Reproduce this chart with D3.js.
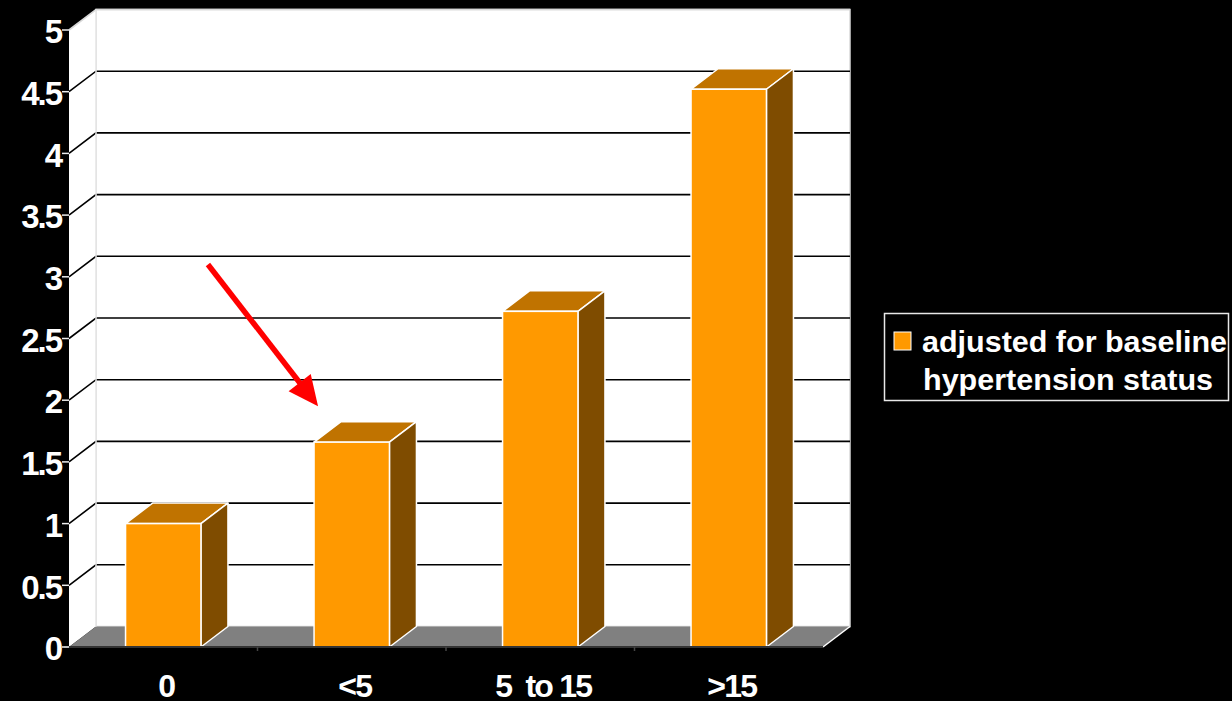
<!DOCTYPE html>
<html>
<head>
<meta charset="utf-8">
<script src="https://cdn.jsdelivr.net/npm/d3@7"></script>
<style>
  html, body { margin: 0; padding: 0; background: #000; }
  svg { display: block; }
  text { font-family: "Liberation Sans", Arial, sans-serif; font-weight: bold; fill: #fff; }
</style>
</head>
<body>
<svg id="chart" width="1232" height="701"></svg>
<script>
// Categories and values
const categories = ["0", "<5", "5 to 15", ">15"];
const values = [1.0, 1.66, 2.72, 4.52];
const yTicks = [0, 0.5, 1, 1.5, 2, 2.5, 3, 3.5, 4, 4.5, 5];
const yTickLabels = ["0", "0.5", "1", "1.5", "2", "2.5", "3", "3.5", "4", "4.5", "5"];
const seriesName = ["adjusted for baseline", "hypertension status"];

(function () {
const svg = d3.select("#chart");
const W = 1232, H = 701;

// Front plane of the 3D box
const plotLeft = 69, plotRight = 823, plotBottom = 647, plotTop = 30;
// Depth offset of the back wall
const dx = 27, dy = 20.5;

const x = d3.scaleBand().domain(categories).range([plotLeft, plotRight]).paddingInner(0.6).paddingOuter(0.3);
const y = d3.scaleLinear().domain([0, 5]).range([plotBottom, plotTop]);

const colFront = "#ff9900", colTop = "#c07300", colSide = "#7f4c00";

svg.append("rect").attr("width", W).attr("height", H).attr("fill", "#000");

// Back wall
svg.append("rect")
  .attr("x", plotLeft + dx).attr("y", y(5) - dy)
  .attr("width", plotRight - plotLeft).attr("height", y(0) - y(5))
  .attr("fill", "#fff").attr("stroke", "#d8d8d8").attr("stroke-width", 1.5);

// Left side wall
svg.append("polygon")
  .attr("points", [[plotLeft, y(5)], [plotLeft + dx, y(5) - dy], [plotLeft + dx, y(0) - dy], [plotLeft, y(0)]].join(" "))
  .attr("fill", "#fff");

// Floor
svg.append("polygon")
  .attr("points", [[plotLeft, y(0)], [plotLeft + dx, y(0) - dy], [plotRight + dx, y(0) - dy], [plotRight, y(0)]].join(" "))
  .attr("fill", "#808080");
svg.append("line")
  .attr("x1", plotRight).attr("y1", y(0)).attr("x2", plotRight + dx).attr("y2", y(0) - dy)
  .attr("stroke", "#fff").attr("stroke-width", 1.5);

// Gridlines: along the side wall and across the back wall
yTicks.filter(t => t > 0).forEach(t => {
  const c = t === 5 ? "#d8d8d8" : "#000";
  svg.append("polyline")
    .attr("points", [[plotLeft, y(t)], [plotLeft + dx, y(t) - dy], [plotRight + dx, y(t) - dy]].join(" "))
    .attr("fill", "none").attr("stroke", c).attr("stroke-width", 1.6);
});
svg.append("line")
  .attr("x1", plotLeft + dx).attr("y1", y(5) - dy).attr("x2", plotLeft + dx).attr("y2", y(0) - dy)
  .attr("stroke", "#e4e4e4").attr("stroke-width", 1.5);

// Bars (front, top, side faces)
const bars = svg.append("g").selectAll("g").data(categories.map((c, i) => ({ c, v: values[i] })))
  .join("g");
bars.append("polygon")
  .attr("points", d => {
    const x0 = x(d.c), x1 = x(d.c) + x.bandwidth(), yv = y(d.v);
    return [[x0, yv], [x0 + dx, yv - dy], [x1 + dx, yv - dy], [x1, yv]].join(" ");
  })
  .attr("fill", colTop).attr("stroke", "#fff").attr("stroke-width", 1.5).attr("stroke-linejoin", "round");
bars.append("polygon")
  .attr("points", d => {
    const x1 = x(d.c) + x.bandwidth(), yv = y(d.v);
    return [[x1, yv], [x1 + dx, yv - dy], [x1 + dx, y(0) - dy], [x1, y(0)]].join(" ");
  })
  .attr("fill", colSide).attr("stroke", "#fff").attr("stroke-width", 1.5).attr("stroke-linejoin", "round");
bars.append("rect")
  .attr("x", d => x(d.c)).attr("y", d => y(d.v))
  .attr("width", x.bandwidth()).attr("height", d => y(0) - y(d.v))
  .attr("fill", colFront).attr("stroke", "#fff").attr("stroke-width", 1.5);

// Front floor edge with category separators
svg.append("line")
  .attr("x1", plotLeft - 5).attr("y1", plotBottom).attr("x2", plotRight).attr("y2", plotBottom)
  .attr("stroke", "#333").attr("stroke-width", 2);
const step = x.step();
d3.range(1, categories.length).forEach(i => {
  const bx = plotLeft + step * i;
  svg.append("line").attr("x1", bx).attr("x2", bx).attr("y1", plotBottom).attr("y2", plotBottom + 4)
    .attr("stroke", "#444").attr("stroke-width", 1.5);
});

// Y axis
const yAxis = svg.append("g");
yTicks.forEach((t, i) => {
  yAxis.append("line").attr("x1", plotLeft - 7).attr("x2", plotLeft).attr("y1", y(t)).attr("y2", y(t))
    .attr("stroke", "#eee").attr("stroke-width", 1.5);
  yAxis.append("text")
    .attr("x", 61).attr("y", y(t)).attr("dy", "0.4em")
    .attr("text-anchor", "end")
    .attr("font-size", 33).attr("letter-spacing", -2)
    .text(yTickLabels[i]);
});

// X axis labels
svg.append("g").selectAll("text").data(categories).join("text")
  .attr("x", d => x(d) + x.bandwidth() / 2 + 3)
  .attr("y", 697)
  .attr("text-anchor", "middle")
  .attr("font-size", 32).attr("letter-spacing", -1.8)
  .attr("xml:space", "preserve")
  .text(d => d.replace(" to", "  to"));

// Arrow annotation pointing at the "<5" bar
const tail = [x("0") + x.bandwidth() + 7, y(3.1)];
const tip = [x("<5") + 4, y(1.95)];
const ang = Math.atan2(tip[1] - tail[1], tip[0] - tail[0]);
const headLen = 30, headHalf = 14;
const base = [tip[0] - headLen * Math.cos(ang), tip[1] - headLen * Math.sin(ang)];
svg.append("line")
  .attr("x1", tail[0]).attr("y1", tail[1]).attr("x2", base[0] + 2 * Math.cos(ang)).attr("y2", base[1] + 2 * Math.sin(ang))
  .attr("stroke", "#ff0000").attr("stroke-width", 5.5);
svg.append("polygon")
  .attr("points", [tip,
    [base[0] - headHalf * Math.sin(ang), base[1] + headHalf * Math.cos(ang)],
    [base[0] + headHalf * Math.sin(ang), base[1] - headHalf * Math.cos(ang)]].join(" "))
  .attr("fill", "#ff0000");

// Legend
const lg = svg.append("g");
lg.append("rect").attr("x", 884.5).attr("y", 313.5).attr("width", 344).attr("height", 87)
  .attr("fill", "#000").attr("stroke", "#e8e8e8").attr("stroke-width", 1.5);
lg.append("rect").attr("x", 894).attr("y", 332).attr("width", 17).attr("height", 18)
  .attr("fill", colFront).attr("stroke", "#fff").attr("stroke-width", 1);
lg.append("text").attr("x", 922).attr("y", 352).attr("font-size", 30)
  .attr("textLength", 305).attr("lengthAdjust", "spacingAndGlyphs").text(seriesName[0]);
lg.append("text").attr("x", 923).attr("y", 390).attr("font-size", 30)
  .attr("textLength", 290).attr("lengthAdjust", "spacingAndGlyphs").text(seriesName[1]);
})();
</script>
</body>
</html>
